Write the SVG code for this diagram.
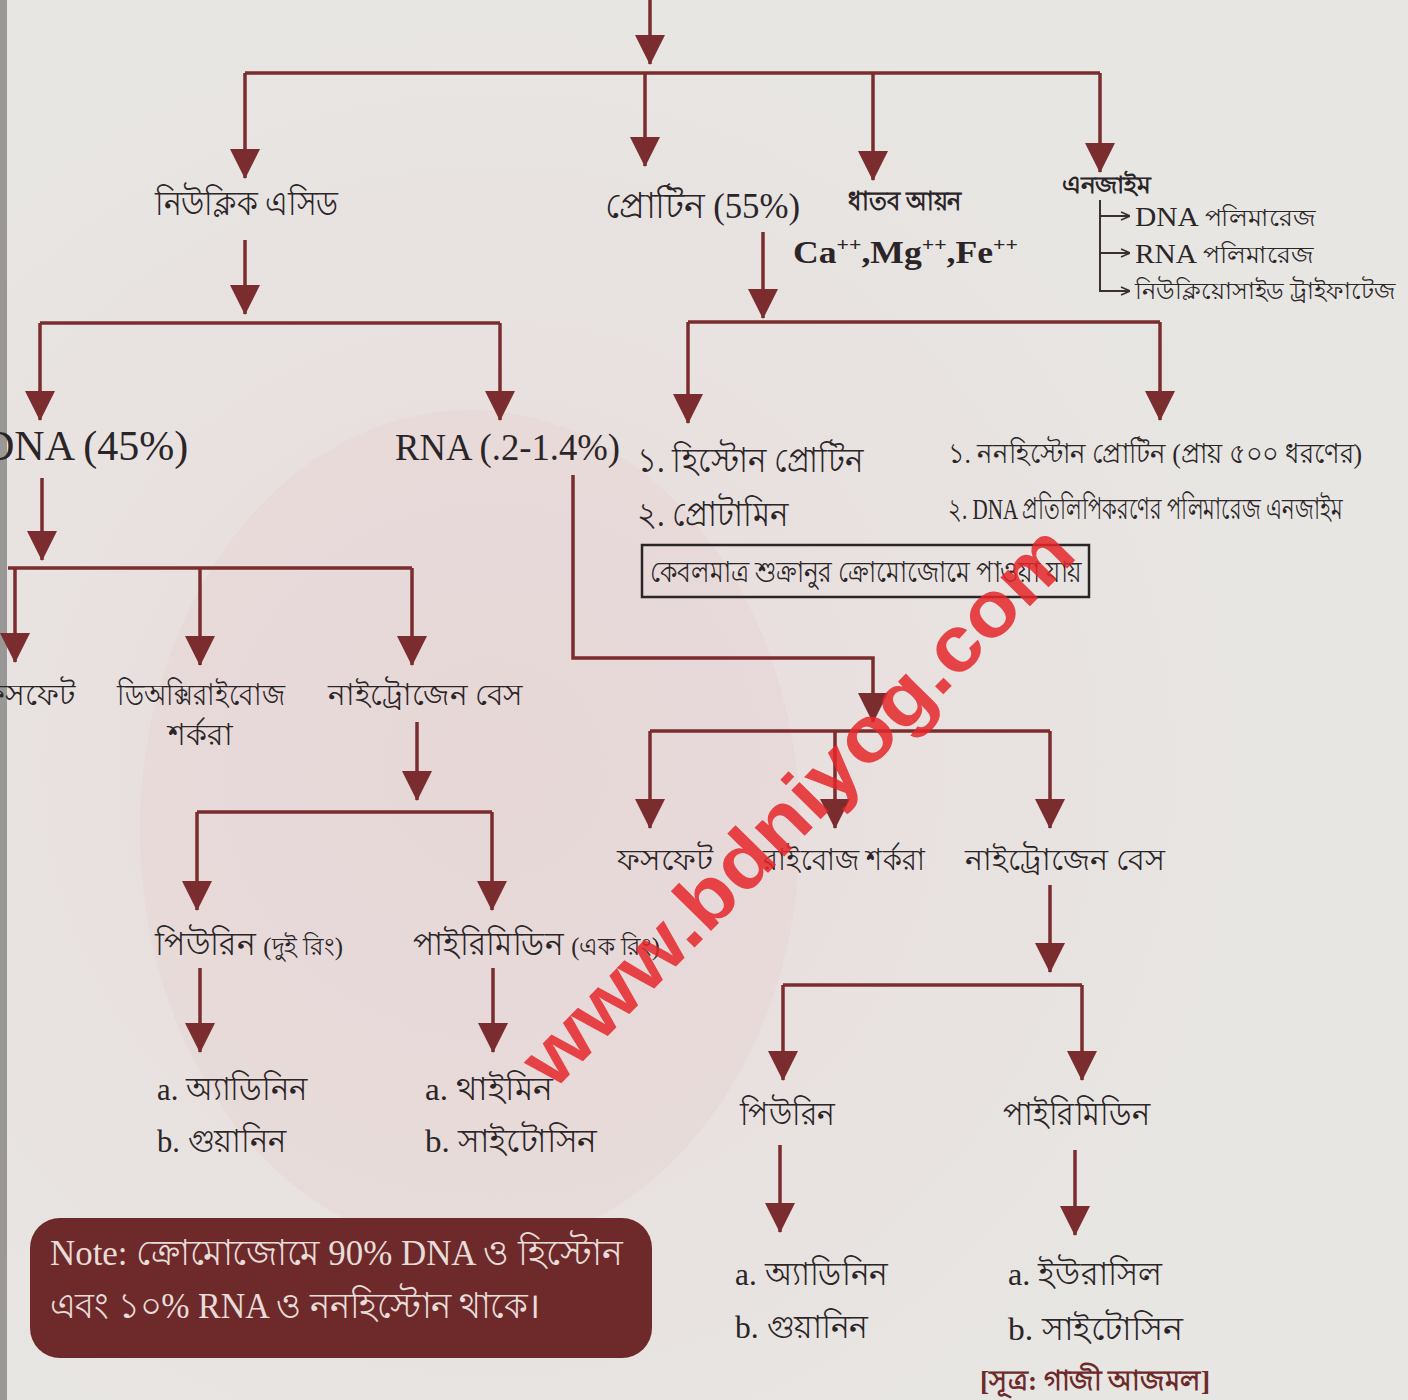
<svg xmlns="http://www.w3.org/2000/svg" width="1408" height="1400" viewBox="0 0 1408 1400">
<defs>
<style>
.ln{fill:none;stroke:#7a2c2e;stroke-width:3.5}
.thin{fill:none;stroke:#3a3033;stroke-width:2}
.t{font-family:"Liberation Serif","Noto Sans",serif;fill:#2b2528}
.b{font-weight:bold}
</style>
<marker id="ah" viewBox="0 0 30 30" refX="29" refY="15" markerWidth="30" markerHeight="30" markerUnits="userSpaceOnUse" orient="auto">
<path d="M0,0 L30,15 L0,30 z" fill="#7a2c2e"/>
</marker>
<marker id="sa" viewBox="0 0 10 10" refX="10" refY="5" markerWidth="10" markerHeight="10" markerUnits="userSpaceOnUse" orient="auto">
<path d="M1,1 L10,5 L1,9" fill="none" stroke="#3a3033" stroke-width="1.6"/>
</marker>
<radialGradient id="bg" cx="0.35" cy="0.55" r="0.6">
<stop offset="0" stop-color="#e9dcdc"/>
<stop offset="1" stop-color="#e7e6e3"/>
</radialGradient>
</defs>
<rect width="1408" height="1400" fill="url(#bg)"/>
<rect x="0" y="0" width="7" height="1400" fill="#9a9896"/>
<ellipse cx="470" cy="830" rx="330" ry="420" fill="#e3cccc" opacity="0.3"/>

<g id="connectors">
<path class="ln" d="M650,0 V64" marker-end="url(#ah)"/>
<path class="ln" d="M245,73 H1100"/>
<path class="ln" d="M245,73 V178" marker-end="url(#ah)"/>
<path class="ln" d="M645,73 V166" marker-end="url(#ah)"/>
<path class="ln" d="M873,73 V180" marker-end="url(#ah)"/>
<path class="ln" d="M1100,73 V172" marker-end="url(#ah)"/>
<path class="thin" d="M1100,200 V291 H1130" marker-end="url(#sa)"/>
<path class="thin" d="M1100,216 H1130" marker-end="url(#sa)"/>
<path class="thin" d="M1100,253 H1130" marker-end="url(#sa)"/>
<path class="ln" d="M245,240 V314" marker-end="url(#ah)"/>
<path class="ln" d="M40,323 H500"/>
<path class="ln" d="M40,323 V420" marker-end="url(#ah)"/>
<path class="ln" d="M500,323 V420" marker-end="url(#ah)"/>
<path class="ln" d="M763,232 V318" marker-end="url(#ah)"/>
<path class="ln" d="M688,322 H1160"/>
<path class="ln" d="M688,322 V423" marker-end="url(#ah)"/>
<path class="ln" d="M1160,322 V420" marker-end="url(#ah)"/>
<path class="ln" d="M42,478 V560" marker-end="url(#ah)"/>
<path class="ln" d="M8,568 H412"/>
<path class="ln" d="M15,568 V662" marker-end="url(#ah)"/>
<path class="ln" d="M200,568 V665" marker-end="url(#ah)"/>
<path class="ln" d="M412,568 V665" marker-end="url(#ah)"/>
<path class="ln" d="M417,722 V800" marker-end="url(#ah)"/>
<path class="ln" d="M197,812 H492"/>
<path class="ln" d="M197,812 V910" marker-end="url(#ah)"/>
<path class="ln" d="M492,812 V910" marker-end="url(#ah)"/>
<path class="ln" d="M200,968 V1052" marker-end="url(#ah)"/>
<path class="ln" d="M493,968 V1052" marker-end="url(#ah)"/>
<path class="ln" d="M573,475 V658 H873 V722" marker-end="url(#ah)"/>
<path class="ln" d="M650,731 H1050"/>
<path class="ln" d="M650,731 V828" marker-end="url(#ah)"/>
<path class="ln" d="M835,731 V828" marker-end="url(#ah)"/>
<path class="ln" d="M1050,731 V828" marker-end="url(#ah)"/>
<path class="ln" d="M1050,885 V972" marker-end="url(#ah)"/>
<path class="ln" d="M783,985 H1082"/>
<path class="ln" d="M783,985 V1080" marker-end="url(#ah)"/>
<path class="ln" d="M1082,985 V1080" marker-end="url(#ah)"/>
<path class="ln" d="M780,1145 V1232" marker-end="url(#ah)"/>
<path class="ln" d="M1075,1150 V1235" marker-end="url(#ah)"/>
</g>

<g id="nucleic-acid"><text class="t" x="155" y="215" font-size="34" textLength="183" lengthAdjust="spacingAndGlyphs">নিউক্লিক এসিড</text></g>
<g id="protein"><text class="t" x="605" y="218" font-size="36" textLength="195" lengthAdjust="spacingAndGlyphs">প্রোটিন (55%)</text></g>
<g id="metal-ion">
<text class="t b" x="848" y="210" font-size="26" textLength="114" lengthAdjust="spacingAndGlyphs">ধাতব আয়ন</text>
<text class="t b" x="793" y="263" font-size="31" textLength="225" lengthAdjust="spacingAndGlyphs">Ca<tspan font-size="19" dy="-12">++</tspan><tspan dy="12">,Mg</tspan><tspan font-size="19" dy="-12">++</tspan><tspan dy="12">,Fe</tspan><tspan font-size="19" dy="-12">++</tspan></text>
</g>
<g id="enzyme">
<text class="t b" x="1062" y="193" font-size="24" textLength="88" lengthAdjust="spacingAndGlyphs">এনজাইম</text>
<text class="t" x="1135" y="226" font-size="28" textLength="180" lengthAdjust="spacingAndGlyphs">DNA <tspan font-size="24">পলিমারেজ</tspan></text>
<text class="t" x="1135" y="263" font-size="28" textLength="178" lengthAdjust="spacingAndGlyphs">RNA <tspan font-size="24">পলিমারেজ</tspan></text>
<text class="t" x="1135" y="299" font-size="24" textLength="260" lengthAdjust="spacingAndGlyphs">নিউক্লিয়োসাইড ট্রাইফাটেজ</text>
</g>
<g id="dna"><text class="t" x="-16" y="460" font-size="42">DNA (45%)</text></g>
<g id="rna"><text class="t" x="395" y="460" font-size="38" textLength="225" lengthAdjust="spacingAndGlyphs">RNA (.2-1.4%)</text></g>
<g id="histone">
<text class="t" x="637" y="472" font-size="34" textLength="226" lengthAdjust="spacingAndGlyphs">১. হিস্টোন প্রোটিন</text>
<text class="t" x="637" y="526" font-size="34" textLength="151" lengthAdjust="spacingAndGlyphs">২. প্রোটামিন</text>
<rect x="642" y="545" width="447" height="52" fill="none" stroke="#2b2528" stroke-width="2.5"/>
<text class="t" x="650" y="582" font-size="29" textLength="432" lengthAdjust="spacingAndGlyphs">কেবলমাত্র শুক্রানুর ক্রোমোজোমে পাওয়া যায়</text>
</g>
<g id="nonhistone">
<text class="t" x="948" y="463" font-size="28" textLength="414" lengthAdjust="spacingAndGlyphs">১. ননহিস্টোন প্রোটিন (প্রায় ৫০০ ধরণের)</text>
<text class="t" x="948" y="519" font-size="30" textLength="395" lengthAdjust="spacingAndGlyphs">২. DNA প্রতিলিপিকরণের পলিমারেজ এনজাইম</text>
</g>
<g id="dna-phosphate"><text class="t" x="75" y="705" font-size="30" text-anchor="end">ফসফেট</text></g>
<g id="deoxyribose">
<text class="t" x="117" y="705" font-size="30" textLength="168" lengthAdjust="spacingAndGlyphs">ডিঅক্সিরাইবোজ</text>
<text class="t" x="200" y="745" font-size="30" text-anchor="middle">শর্করা</text>
</g>
<g id="dna-base"><text class="t" x="328" y="705" font-size="30" textLength="195" lengthAdjust="spacingAndGlyphs">নাইট্রোজেন বেস</text></g>
<g id="dna-purine"><text class="t" x="155" y="955" font-size="32" textLength="188" lengthAdjust="spacingAndGlyphs">পিউরিন <tspan font-size="25">(দুই রিং)</tspan></text></g>
<g id="dna-pyrimidine"><text class="t" x="413" y="955" font-size="32" textLength="247" lengthAdjust="spacingAndGlyphs">পাইরিমিডিন <tspan font-size="25">(এক রিং)</tspan></text></g>
<g id="dna-purine-list">
<text class="t" x="157" y="1100" font-size="32" textLength="150" lengthAdjust="spacingAndGlyphs">a. অ্যাডিনিন</text>
<text class="t" x="157" y="1152" font-size="32" textLength="129" lengthAdjust="spacingAndGlyphs">b. গুয়ানিন</text>
</g>
<g id="dna-pyrimidine-list">
<text class="t" x="425" y="1100" font-size="32" textLength="128" lengthAdjust="spacingAndGlyphs">a. থাইমিন</text>
<text class="t" x="425" y="1152" font-size="32" textLength="172" lengthAdjust="spacingAndGlyphs">b. সাইটোসিন</text>
</g>
<g id="rna-phosphate"><text class="t" x="617" y="870" font-size="30" textLength="96" lengthAdjust="spacingAndGlyphs">ফসফেট</text></g>
<g id="ribose"><text class="t" x="763" y="870" font-size="30" textLength="162" lengthAdjust="spacingAndGlyphs">রাইবোজ শর্করা</text></g>
<g id="rna-base"><text class="t" x="965" y="870" font-size="30" textLength="200" lengthAdjust="spacingAndGlyphs">নাইট্রোজেন বেস</text></g>
<g id="rna-purine"><text class="t" x="740" y="1125" font-size="32" textLength="95" lengthAdjust="spacingAndGlyphs">পিউরিন</text></g>
<g id="rna-pyrimidine"><text class="t" x="1003" y="1125" font-size="32" textLength="147" lengthAdjust="spacingAndGlyphs">পাইরিমিডিন</text></g>
<g id="rna-purine-list">
<text class="t" x="735" y="1285" font-size="32" textLength="153" lengthAdjust="spacingAndGlyphs">a. অ্যাডিনিন</text>
<text class="t" x="735" y="1338" font-size="32" textLength="133" lengthAdjust="spacingAndGlyphs">b. গুয়ানিন</text>
</g>
<g id="rna-pyrimidine-list">
<text class="t" x="1008" y="1285" font-size="32" textLength="154" lengthAdjust="spacingAndGlyphs">a. ইউরাসিল</text>
<text class="t" x="1008" y="1340" font-size="32" textLength="175" lengthAdjust="spacingAndGlyphs">b. সাইটোসিন</text>
</g>
<g id="note">
<rect x="30" y="1218" width="622" height="140" rx="30" fill="#6e2a2b"/>
<text class="t" x="50" y="1265" font-size="36" style="fill:#e8dcd8" textLength="572" lengthAdjust="spacingAndGlyphs">Note: ক্রোমোজোমে 90% DNA ও হিস্টোন</text>
<text class="t" x="50" y="1318" font-size="36" style="fill:#e8dcd8" textLength="490" lengthAdjust="spacingAndGlyphs">এবং ১০% RNA ও ননহিস্টোন থাকে।</text>
</g>
<g id="source"><text class="t b" x="980" y="1390" font-size="28" style="fill:#6e2a2b" textLength="230" lengthAdjust="spacingAndGlyphs">[সূত্র: গাজী আজমল]</text></g>
<g id="watermark"><text x="816" y="824" font-family="Liberation Sans, sans-serif" font-weight="bold" font-size="78" fill="#e5272a" fill-opacity="0.85" text-anchor="middle" transform="rotate(-45.5 816 824)" textLength="750" lengthAdjust="spacingAndGlyphs">www.bdniyog.com</text></g>
</svg>
